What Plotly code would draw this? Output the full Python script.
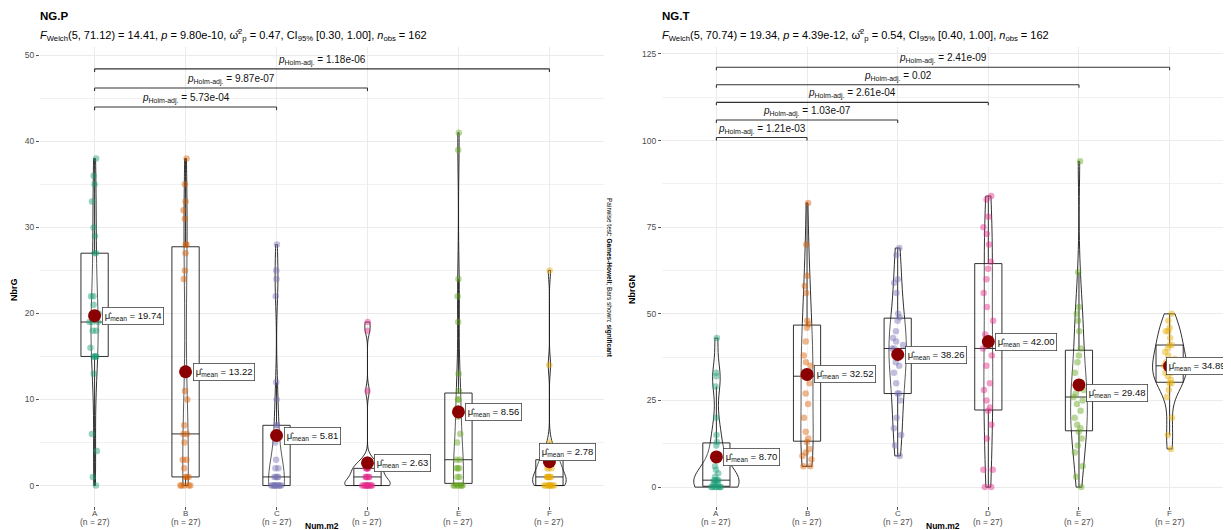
import numpy as np
import plotly.graph_objects as go

# page body has an 8px margin, so the figure fills the rest of the 1231x530 window
OFF = 8
W, H = 1231 - OFF, 530 - OFF

categories = ["A", "B", "C", "D", "E", "F"]

# ---- NG.P (NbrG) values per group ----
ngp_A = [0, 1, 4, 6, 13, 15, 15, 15, 15, 16, 18, 18, 19, 19, 19, 20, 21, 22, 22, 27, 27, 29, 30, 33, 35, 36, 38]
ngp_B = [0, 0, 0, 0, 0, 1, 1, 1, 2, 3, 3, 5, 6, 6, 7, 10, 11, 24, 25, 27, 28, 28, 31, 32, 33, 35, 38]
ngp_C = [0, 0, 0, 0, 0, 0, 0, 0, 0, 0, 1, 1, 1, 1, 2, 2, 3, 5, 6, 7, 7, 10, 12, 22, 24, 25, 28]
ngp_D = [0, 0, 0, 0, 0, 0, 0, 0, 0, 0, 0, 1, 1, 1, 1, 1, 2, 2, 2, 2, 2, 2, 3, 3, 11, 18, 19]
ngp_E = [0, 0, 0, 0, 0, 0, 0, 1, 1, 2, 2, 2, 3, 3, 5, 6, 8, 9, 10, 10, 11, 13, 19, 22, 24, 39, 41]
ngp_F = [0, 0, 0, 0, 0, 0, 0, 0, 0, 1, 1, 1, 1, 1, 1, 2, 2, 2, 3, 3, 3, 3, 3, 4, 5, 14, 25]

# ---- NG.T (NbrGN) values per group ----
ngt_A = [0, 0, 0, 0, 0, 0, 0, 1, 1, 1, 2, 2, 2, 2, 3, 4, 5, 6, 9, 12, 13, 15, 20, 29, 32, 33, 43]
ngt_B = [6, 6, 8, 9, 10, 11, 13, 14, 16, 20, 24, 27, 30, 32, 33, 35, 36, 38, 42, 46, 47, 48, 56, 58, 61, 70, 82]
ngt_C = [9, 12, 15, 17, 20, 25, 27, 27, 30, 33, 35, 36, 38, 40, 40, 41, 42, 43, 45, 48, 49, 50, 56, 59, 60, 67, 69]
ngt_D = [0, 0, 5, 5, 14, 18, 22, 23, 25, 28, 30, 35, 38, 40, 44, 48, 52, 56, 60, 63, 65, 70, 73, 75, 78, 83, 84]
ngt_E = [0, 3, 6, 10, 12, 14, 16, 17, 18, 20, 22, 24, 25, 26, 27, 28, 30, 33, 36, 38, 40, 45, 48, 50, 52, 62, 94]
ngt_F = [11, 15, 20, 26, 28, 30, 30, 31, 32, 33, 33, 34, 35, 35, 36, 37, 38, 39, 40, 41, 41, 43, 45, 45, 46, 48, 50]

# ---- test results (text) ----
ngp_subtitle = ("<i>F</i><sub>Welch</sub>(5, 71.12) = 14.41, <i>p</i> = 9.80e-10, "
                "ω̂<sup>2</sup><sub>p</sub> = 0.47, CI<sub>95%</sub> [0.30, 1.00], <i>n</i><sub>obs</sub> = 162")
ngt_subtitle = ("<i>F</i><sub>Welch</sub>(5, 70.74) = 19.34, <i>p</i> = 4.39e-12, "
                "ω̂<sup>2</sup><sub>p</sub> = 0.54, CI<sub>95%</sub> [0.40, 1.00], <i>n</i><sub>obs</sub> = 162")
ngp_pairs = [("A", "C"), ("A", "D"), ("A", "F")]
ngp_pvals = ["5.73e-04", "9.87e-07", "1.18e-06"]
ngt_pairs = [("A", "B"), ("A", "C"), ("A", "D"), ("A", "E"), ("A", "F")]
ngt_pvals = ["1.21e-03", "1.03e-07", "2.61e-04", "0.02", "2.41e-09"]

palette = ["#1B9E77", "#D95F02", "#7570B3", "#E7298A", "#66A61E", "#E6AB02"]
FONT = "Liberation Sans, Arial, sans-serif"


def px(x):
    """screen x pixel -> paper fraction"""
    return (x - OFF) / W


def py(y):
    """screen y pixel -> paper fraction"""
    return 1 - (y - OFF) / H


def nrd0(v):
    v = np.asarray(v, float)
    sd = v.std(ddof=1)
    q75, q25 = np.percentile(v, [75, 25])
    lo = min(sd, (q75 - q25) / 1.34)
    if lo <= 0:
        lo = sd if sd > 0 else 1.0
    return 0.9 * lo * len(v) ** -0.2


def kde_peak(v, bw):
    v = np.asarray(v, float)
    grid = np.linspace(v.min(), v.max(), 512)
    z = (grid[:, None] - v[None, :]) / bw
    dens = np.exp(-0.5 * z ** 2).sum(axis=1) / (len(v) * bw * np.sqrt(2 * np.pi))
    return dens.max()


panels = [
    dict(title="NG.P", ytitle="NbrG", subtitle=ngp_subtitle,
         groups=[ngp_A, ngp_B, ngp_C, ngp_D, ngp_E, ngp_F],
         pairs=ngp_pairs, pvals=ngp_pvals, dtick=10,
         xdom=(40, 604), ax="", title_x=38, ytitle_x=14, caption_x=609,
         label_shift=[(7, 0), (7, 0), (7, 0), (7, 0), (7, 0), (-10, 10)]),
    dict(title="NG.T", ytitle="NbrGN", subtitle=ngt_subtitle,
         groups=[ngt_A, ngt_B, ngt_C, ngt_D, ngt_E, ngt_F],
         pairs=ngt_pairs, pvals=ngt_pvals, dtick=25,
         xdom=(662, 1224), ax="2", title_x=660, ytitle_x=632, caption_x=1229,
         label_shift=[(7, 0), (7, 0), (7, 0), (7, 0), (7, -8), (-4, 0)]),
]

PLOT_TOP, PLOT_BOTTOM = 47, 506

fig = go.Figure()
annotations = []
shapes = []
layout_axes = {}

for p in panels:
    xa = "x" + p["ax"]
    ya = "y" + p["ax"]
    xref = xa
    yref = ya
    groups = p["groups"]
    ymax = max(max(g) for g in groups)

    # points + box
    for cat, vals, col in zip(categories, groups, palette):
        fig.add_trace(go.Box(
            x=[cat] * len(vals), y=vals, xaxis=xa, yaxis=ya,
            width=0.3, boxpoints="all", jitter=0.45, pointpos=0,
            marker=dict(color=col, size=6.5, opacity=0.45, line=dict(width=0)),
            line=dict(color="#1a1a1a", width=0.9),
            fillcolor="rgba(255,255,255,0.2)",
            whiskerwidth=0, showlegend=False, hoverinfo="skip",
        ))
    # violins, area-scaled like ggplot (max width 0.5 for the densest group)
    bws = [nrd0(g) for g in groups]
    peaks = [kde_peak(g, b) for g, b in zip(groups, bws)]
    top_peak = max(peaks)
    for cat, vals, bw, pk in zip(categories, groups, bws, peaks):
        fig.add_trace(go.Violin(
            x=[cat] * len(vals), y=vals, xaxis=xa, yaxis=ya,
            width=0.5 * pk / top_peak, scalemode="width", spanmode="hard",
            bandwidth=bw, points=False,
            line=dict(color="#1a1a1a", width=0.9),
            fillcolor="rgba(255,255,255,0.2)",
            showlegend=False, hoverinfo="skip",
        ))
    # means
    means = [float(np.mean(g)) for g in groups]
    fig.add_trace(go.Scatter(
        x=categories, y=means, xaxis=xa, yaxis=ya, mode="markers",
        marker=dict(color="#8B0000", size=13, line=dict(width=0)),
        showlegend=False, hoverinfo="skip",
    ))
    for cat, m, (dx, dy) in zip(categories, means, p["label_shift"]):
        annotations.append(dict(
            x=cat, y=m, xref=xref, yref=yref, xanchor="left", yanchor="middle",
            xshift=dx, yshift=dy, showarrow=False,
            text="μ̂<sub>mean</sub> = %.2f" % m,
            font=dict(family=FONT, size=9.5, color="#111"),
            bgcolor="white", bordercolor="#444", borderwidth=0.8, borderpad=2,
        ))

    # significance brackets
    start = ymax * 1.073
    step = ymax * 0.054
    tip = ymax * 0.009
    last = start
    for k, ((g1, g2), pv) in enumerate(zip(p["pairs"], p["pvals"])):
        yb = start + k * step
        last = yb
        line = dict(color="#333", width=1.1)
        shapes.append(dict(type="line", xref=xref, yref=yref, x0=g1, x1=g2, y0=yb, y1=yb, line=line))
        shapes.append(dict(type="line", xref=xref, yref=yref, x0=g1, x1=g1, y0=yb, y1=yb - tip, line=line))
        shapes.append(dict(type="line", xref=xref, yref=yref, x0=g2, x1=g2, y0=yb, y1=yb - tip, line=line))
        i1, i2 = categories.index(g1), categories.index(g2)
        annotations.append(dict(
            x=(i1 + i2) / 2, y=yb, xref=xref, yref=yref, xanchor="center", yanchor="bottom",
            yshift=0, showarrow=False,
            text="<i>p</i><sub>Holm-adj.</sub> = " + pv,
            font=dict(family=FONT, size=10, color="#111"),
        ))

    yrange = [-0.058 * ymax, last + 0.062 * ymax]

    axis_common = dict(showline=False, zeroline=False, ticks="outside", ticklen=3,
                       tickcolor="#555", tickwidth=0.8, automargin=False,
                       gridcolor="#EBEBEB", gridwidth=1)
    layout_axes["xaxis" + p["ax"]] = dict(
        domain=[px(p["xdom"][0]), px(p["xdom"][1])], type="category",
        categoryorder="array", categoryarray=categories, range=[-0.6, 5.6],
        tickmode="array", tickvals=categories, showticklabels=False,
        anchor=ya, **axis_common)
    layout_axes["yaxis" + p["ax"]] = dict(
        domain=[py(PLOT_BOTTOM), py(PLOT_TOP)], range=yrange, dtick=p["dtick"], tick0=0,
        tickfont=dict(family=FONT, size=8.5, color="#4D4D4D"),
        minor=dict(showgrid=True, dtick=p["dtick"] / 2, gridcolor="#F1F1F1", gridwidth=0.7, ticks=""),
        anchor=xa, **axis_common)

    # category labels with sample sizes under the axis
    for cat, g in zip(categories, groups):
        annotations.append(dict(x=cat, y=py(513), xref=xref, yref="paper",
                                xanchor="center", yanchor="middle", showarrow=False,
                                text=cat, font=dict(family=FONT, size=8, color="#4D4D4D")))
        annotations.append(dict(x=cat, y=py(521.5), xref=xref, yref="paper",
                                xanchor="center", yanchor="middle", showarrow=False,
                                text="(n = %d)" % len(g),
                                font=dict(family=FONT, size=8.5, color="#4D4D4D")))

    # titles
    annotations.append(dict(x=px(p["title_x"]), y=py(16), xref="paper", yref="paper",
                            xanchor="left", yanchor="middle", showarrow=False,
                            text="<b>%s</b>" % p["title"],
                            font=dict(family=FONT, size=11.5, color="#000")))
    annotations.append(dict(x=px(p["title_x"]), y=py(35), xref="paper", yref="paper",
                            xanchor="left", yanchor="middle", showarrow=False,
                            text=p["subtitle"],
                            font=dict(family=FONT, size=11, color="#000")))
    annotations.append(dict(x=px(p["ytitle_x"]), y=py(290), xref="paper", yref="paper",
                            xanchor="center", yanchor="middle", showarrow=False, textangle=-90,
                            text="<b>%s</b>" % p["ytitle"],
                            font=dict(family=FONT, size=9, color="#000")))
    annotations.append(dict(x=px((p["xdom"][0] + p["xdom"][1]) / 2), y=py(525.5), xref="paper", yref="paper",
                            xanchor="center", yanchor="middle", showarrow=False,
                            text="<b>Num.m2</b>",
                            font=dict(family=FONT, size=8.5, color="#000")))
    annotations.append(dict(x=px(p["caption_x"]), y=py(278), xref="paper", yref="paper",
                            xanchor="center", yanchor="middle", showarrow=False, textangle=90,
                            text="Pairwise test: <b>Games-Howell</b>; Bars shown: <b>significant</b>",
                            font=dict(family=FONT, size=6.5, color="#000")))

fig.update_layout(
    width=W, height=H, margin=dict(l=0, r=0, t=0, b=0, autoexpand=False),
    paper_bgcolor="white", plot_bgcolor="white",
    boxmode="overlay", violinmode="overlay",
    annotations=annotations, shapes=shapes, showlegend=False,
    **layout_axes,
)

fig.write_html("out.html")
